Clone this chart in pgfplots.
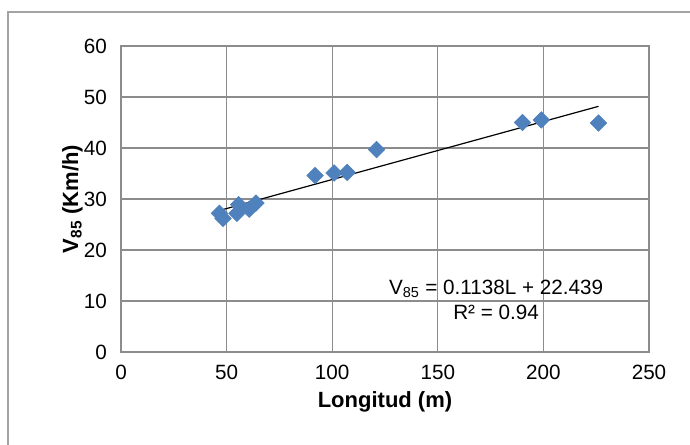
\documentclass[border=0pt]{standalone}
\usepackage{pgfplots}
\pgfplotsset{compat=1.18}
\usepackage{fontspec}
\setmainfont{Liberation Sans}
\definecolor{mkblue}{HTML}{4F81BD}
\definecolor{gridgray}{HTML}{8C8C8C}
\begin{document}
\begin{tikzpicture}[x=0.75pt,y=0.75pt]
\path[use as bounding box] (-121,-93) rectangle (569,352);
\draw[gridgray!80,line width=0.8pt] (-113,-93) -- (-113,340) -- (569,340);
\begin{axis}[at={(0,0)},anchor=south west,scale only axis,
  width=396pt,height=229.5pt,
  xmin=0,xmax=250,ymin=0,ymax=60,
  xtick={0,50,...,250},ytick={0,10,...,60},
  grid=major,
  major grid style={gridgray,line width=0.8pt},
  axis line style={gridgray,line width=0.8pt},
  tick style={draw=none},
  /pgf/number format/assume math mode=true,
  ticklabel style={font=\fontsize{15.5}{17}\selectfont},
  xticklabel style={yshift=-6pt},
  yticklabel style={xshift=-7pt},
  xlabel={\textbf{Longitud (m)}},
  ylabel={\textbf{V\textsubscript{85} (Km/h)}},
  label style={font=\fontsize{16.5}{18}\selectfont},
  xlabel style={yshift=-2pt},
  ylabel style={yshift=-6pt},
]
\addplot[only marks,mark=square*,mark size=4.4pt,mark options={rotate=45},color=mkblue] coordinates {
(46.6,27.2) (48.3,26.2) (54.9,27.2) (55.7,28.9) (60.7,28.0) (63.9,29.2)
(91.9,34.6) (100.9,35.1) (107.1,35.2) (121.0,39.7)
(190.1,45.0) (199.0,45.5) (226.1,44.9)
};
\addplot[black,line width=0.9pt] coordinates {(46.6,27.742) (226.1,48.169)};
\node[font=\fontsize{15.5}{17}\selectfont] at (axis cs:177.6,12.4) {V\textsubscript{85} = 0.1138L + 22.439};
\node[font=\fontsize{15.5}{17}\selectfont] at (axis cs:177.6,7.8) {R² = 0.94};
\end{axis}
\end{tikzpicture}
\end{document}
